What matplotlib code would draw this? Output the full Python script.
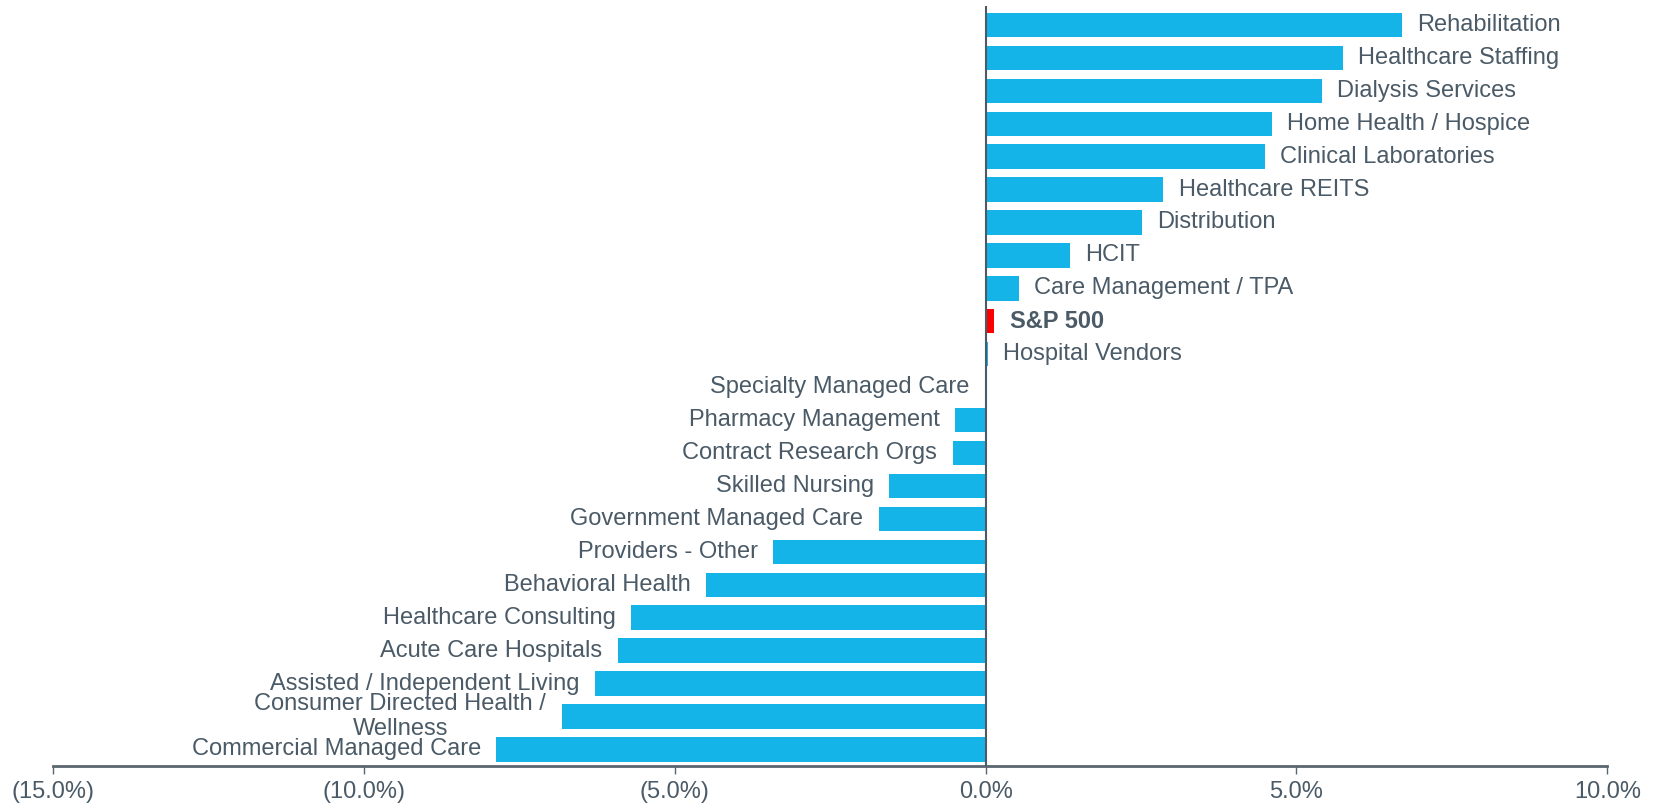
import matplotlib.pyplot as plt
from matplotlib.ticker import FuncFormatter

plt.rcParams["font.family"] = ["Liberation Sans", "DejaVu Sans"]

secteurs = [
    "Rehabilitation", "Healthcare Staffing", "Dialysis Services",
    "Home Health / Hospice", "Clinical Laboratories", "Healthcare REITS",
    "Distribution", "HCIT", "Care Management / TPA", "S&P 500",
    "Hospital Vendors", "Specialty Managed Care", "Pharmacy Management",
    "Contract Research Orgs", "Skilled Nursing", "Government Managed Care",
    "Providers - Other", "Behavioral Health", "Healthcare Consulting",
    "Acute Care Hospitals", "Assisted / Independent Living",
    "Consumer Directed Health /\nWellness", "Commercial Managed Care",
]
valeurs = [
    6.70, 5.75, 5.41, 4.61, 4.49, 2.86, 2.52, 1.36, 0.53, 0.14,
    0.04, -0.01, -0.49, -0.53, -1.55, -1.72, -3.42, -4.49, -5.70,
    -5.92, -6.28, -6.82, -7.87,
]
ticks_x = [-15, -10, -5, 0, 5, 10]

BLEU = "#15B4E8"
ROUGE = "#FF0000"
TEXTE = "#4A5A66"
TAILLE = 17

fig = plt.figure(figsize=(16.57, 8.07), dpi=100)
ax = fig.add_axes([0.032, 0.051, 0.938, 0.941])

positions = list(range(len(secteurs)))
couleurs = [ROUGE if s == "S&P 500" else BLEU for s in secteurs]
ax.barh(positions, valeurs, height=0.74, color=couleurs, zorder=2)

for pos, nom, val in zip(positions, secteurs, valeurs):
    gras = "bold" if nom == "S&P 500" else "normal"
    if val >= 0:
        ax.annotate(nom, (val, pos), xytext=(11, 0), textcoords="offset points",
                    ha="left", va="center", fontsize=TAILLE, color=TEXTE,
                    fontweight=gras)
    else:
        ax.annotate(nom, (val, pos), xytext=(-11, 0), textcoords="offset points",
                    ha="right", va="center", fontsize=TAILLE, color=TEXTE,
                    fontweight=gras, multialignment="center",
                    linespacing=1.15)

ax.set_xlim(-15, 10)
ax.set_ylim(len(secteurs) - 0.5, -0.56)
ax.set_xticks(ticks_x)
ax.xaxis.set_major_formatter(FuncFormatter(
    lambda v, p: f"({abs(v):.1f}%)" if v < 0 else f"{v:.1f}%"))
ax.tick_params(axis="x", direction="out", length=6, width=1,
               colors="#5A6670", labelcolor=TEXTE, labelsize=TAILLE, pad=5)
ax.set_yticks([])

for cote in ["top", "right", "left"]:
    ax.spines[cote].set_visible(False)
ax.spines["bottom"].set_color("#5A6670")
ax.spines["bottom"].set_linewidth(2)
ax.axvline(0, color="#4A5A66", linewidth=1.5, zorder=3)

fig.savefig("out.png", dpi=100)
